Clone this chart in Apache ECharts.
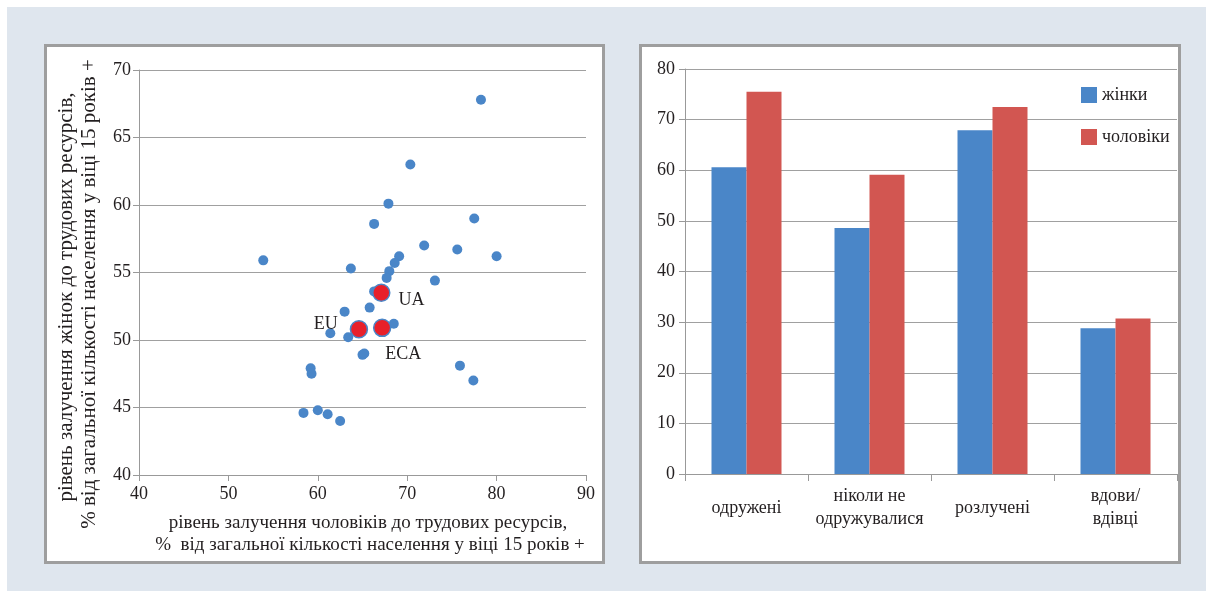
<!DOCTYPE html>
<html>
<head>
<meta charset="utf-8">
<script src="https://cdn.jsdelivr.net/npm/echarts@6/dist/echarts.min.js"></script>
<style>
  body { margin: 0; background: #fff; }
  #bg { position: absolute; left: 7px; top: 7px; width: 1199px; height: 584px; background: #dfe6ee; }
  .panel { position: absolute; background: #fff; border: 3px solid #9e9e9e; box-sizing: border-box; }
  #main { position: absolute; left: 0; top: 0; width: 1206px; height: 591px; }
</style>
</head>
<body>
<div id="bg"></div>
<div class="panel" style="left:44px;top:44px;width:561px;height:520px;"></div>
<div class="panel" style="left:639px;top:44px;width:542px;height:520px;"></div>
<div id="main"></div>
<script>
// scatter: participation of men (x) vs women (y), % of population 15+
var menRate = [78.25, 70.35, 67.9, 66.3, 77.5, 71.9, 75.6, 80.0, 53.9, 69.1, 68.6,
  63.7, 68.0, 67.7, 73.1, 66.3, 65.8, 63.0, 68.5, 61.4, 63.4, 65.0, 65.2, 59.2,
  59.3, 75.9, 77.4, 58.4, 60.0, 61.1, 62.5];
var womenRate = [67.8, 63.0, 60.1, 58.6, 59.0, 57.0, 56.7, 56.2, 55.9, 56.2, 55.7,
  55.3, 55.1, 54.6, 54.4, 53.6, 52.4, 52.1, 51.2, 50.5, 50.2, 48.9, 49.0, 47.9,
  47.5, 48.1, 47.0, 44.6, 44.8, 44.5, 44.0];

// highlighted countries / regions
var markNames = ['UA', 'EU', 'ECA'];
var markMen = [67.1, 64.6, 67.2];
var markWomen = [53.5, 50.8, 50.9];

// bar chart: by marital status
var statuses = ['одружені', 'ніколи не\nодружувалися', 'розлучені', 'вдови/\nвдівці'];
var women = [60.6, 48.6, 67.9, 28.8];
var men = [75.5, 59.1, 72.5, 30.7];

var serif = '"Liberation Serif", "DejaVu Serif", serif';
var txt = '#231f20';
var axisGrey = '#999';
var gridGrey = '#a0a0a0';
var blue = '#4a86c8';
var red = '#d25651';

var chart = echarts.init(document.getElementById('main'), null, { renderer: 'canvas' });

var scatterData = [];
for (var i = 0; i < menRate.length; i++) {
  scatterData.push([menRate[i], womenRate[i]]);
}
var labelPos = {
  UA: { position: 'right', distance: 8, offset: [0, 8] },
  EU: { position: 'left', distance: 12, offset: [0, -5] },
  ECA: { position: 'bottom', distance: 4, offset: [21, 4] }
};
var markData = [];
for (var j = 0; j < markNames.length; j++) {
  var lp = labelPos[markNames[j]];
  markData.push({
    name: markNames[j],
    value: [markMen[j], markWomen[j]],
    label: {
      show: true,
      formatter: '{b}',
      position: lp.position,
      distance: lp.distance,
      offset: lp.offset,
      fontFamily: serif,
      fontSize: 18,
      color: txt
    }
  });
}

var option = {
  animation: false,
  backgroundColor: 'transparent',
  textStyle: { fontFamily: serif },
  grid: [
    { left: 139, top: 70, width: 447, height: 405 },
    { left: 685, top: 69, width: 492, height: 405 }
  ],
  legend: {
    data: ['жінки', 'чоловіки'],
    orient: 'vertical',
    left: 1081,
    top: 86,
    padding: 0,
    icon: 'rect',
    itemWidth: 16,
    itemHeight: 16,
    itemGap: 24,
    textStyle: { fontFamily: serif, fontSize: 18, color: txt }
  },
  xAxis: [
    {
      gridIndex: 0, type: 'value', min: 40, max: 90, interval: 10,
      splitLine: { show: false },
      axisLine: { show: true, lineStyle: { color: axisGrey } },
      axisTick: { show: true, length: 6, lineStyle: { color: axisGrey } },
      axisLabel: { fontFamily: serif, fontSize: 18, color: txt, margin: 10 }
    },
    {
      gridIndex: 1, type: 'category', data: statuses,
      axisLine: { show: true, lineStyle: { color: axisGrey } },
      axisTick: { show: true, length: 7, alignWithLabel: false, lineStyle: { color: axisGrey } },
      axisLabel: {
        interval: 0, fontFamily: serif, fontSize: 18, color: txt,
        verticalAlign: 'middle', margin: 34, lineHeight: 23
      }
    }
  ],
  yAxis: [
    {
      gridIndex: 0, type: 'value', min: 40, max: 70, interval: 5,
      splitLine: { show: true, lineStyle: { color: gridGrey } },
      axisLine: { show: true, lineStyle: { color: axisGrey } },
      axisTick: { show: true, length: 6, lineStyle: { color: axisGrey } },
      axisLabel: { fontFamily: serif, fontSize: 18, color: txt, margin: 8 }
    },
    {
      gridIndex: 1, type: 'value', min: 0, max: 80, interval: 10,
      splitLine: { show: true, lineStyle: { color: gridGrey } },
      axisLine: { show: true, lineStyle: { color: axisGrey } },
      axisTick: { show: true, length: 6, lineStyle: { color: axisGrey } },
      axisLabel: { fontFamily: serif, fontSize: 18, color: txt, margin: 10 }
    }
  ],
  series: [
    {
      name: 'країни', type: 'scatter', xAxisIndex: 0, yAxisIndex: 0,
      symbolSize: 10, itemStyle: { color: blue, opacity: 1 },
      data: scatterData
    },
    {
      name: 'виділені', type: 'scatter', xAxisIndex: 0, yAxisIndex: 0,
      symbolSize: 17,
      itemStyle: { color: '#e8202a', borderColor: blue, borderWidth: 1.5, opacity: 1 },
      data: markData, z: 3
    },
    {
      name: 'жінки', type: 'bar', xAxisIndex: 1, yAxisIndex: 1,
      barWidth: 35, barGap: '0%', itemStyle: { color: blue },
      data: women
    },
    {
      name: 'чоловіки', type: 'bar', xAxisIndex: 1, yAxisIndex: 1,
      barWidth: 35, barGap: '0%', itemStyle: { color: red },
      data: men
    }
  ],
  graphic: [
    {
      type: 'text', x: 66, y: 297, rotation: Math.PI / 2,
      style: {
        text: 'рівень залучення жінок до трудових ресурсів,',
        font: '21px ' + serif, fill: txt, align: 'center', verticalAlign: 'middle'
      }
    },
    {
      type: 'text', x: 89, y: 294, rotation: Math.PI / 2,
      style: {
        text: '% від загальної кількості населення у віці 15 років +',
        font: '21px ' + serif, fill: txt, align: 'center', verticalAlign: 'middle'
      }
    },
    {
      type: 'text', x: 368, y: 523,
      style: {
        text: 'рівень залучення чоловіків до трудових ресурсів,',
        font: '19px ' + serif, fill: txt, align: 'center', verticalAlign: 'middle'
      }
    },
    {
      type: 'text', x: 370, y: 545,
      style: {
        text: '%  від загальної кількості населення у віці 15 років +',
        font: '19px ' + serif, fill: txt, align: 'center', verticalAlign: 'middle'
      }
    }
  ]
};

chart.setOption(option);
</script>
</body>
</html>
